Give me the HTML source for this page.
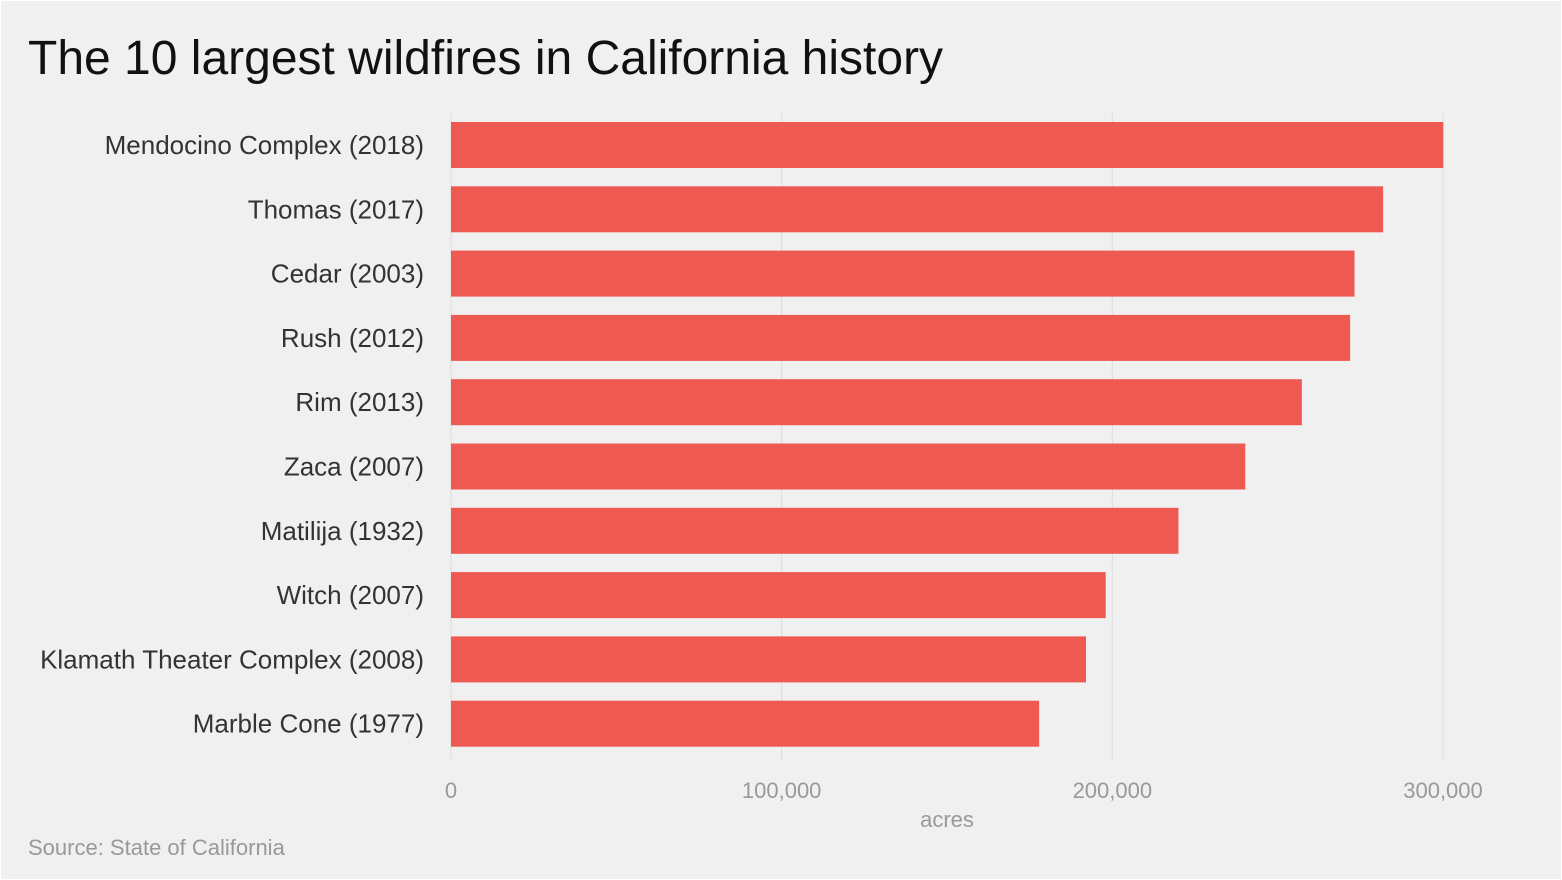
<!DOCTYPE html>
<html><head><meta charset="utf-8"><style>
html,body{margin:0;padding:0;background:#fff;}
svg{display:block;}
</style></head><body>
<svg width="1562" height="880" xmlns="http://www.w3.org/2000/svg">
<rect x="1" y="1" width="1560" height="878" fill="#f0f0f0"/>
<text x="28" y="74" font-family="Liberation Sans, sans-serif" font-size="48" fill="#111">The 10 largest wildfires in California history</text>
<g id="grid"></g><g id="bars"></g><g id="labels"></g><g id="ticks"></g>
<text x="947" y="827" text-anchor="middle" font-family="Liberation Sans, sans-serif" font-size="22" fill="#999">acres</text>
<text x="28" y="855" font-family="Liberation Sans, sans-serif" font-size="22" fill="#999">Source: State of California</text>
</svg>
<script>
const categories=["Mendocino Complex (2018)","Thomas (2017)","Cedar (2003)","Rush (2012)","Rim (2013)","Zaca (2007)","Matilija (1932)","Witch (2007)","Klamath Theater Complex (2008)","Marble Cone (1977)"];
const values=[300086,281893,273246,271911,257314,240207,220000,197990,192038,177866];
const tickValues=[0,100000,200000,300000];
const tickLabels=["0","100,000","200,000","300,000"];
const NS="http://www.w3.org/2000/svg";
const x0=451,x1=1443,xmax=300000;
const xs=v=>x0+(v/xmax)*(x1-x0);
const rowTop=122,rowStep=64.3,barH=46;
const ys=i=>rowTop+i*rowStep;
function mk(tag,attrs,parent){const e=document.createElementNS(NS,tag);for(const k in attrs)e.setAttribute(k,attrs[k]);document.getElementById(parent).appendChild(e);return e;}
tickValues.forEach((t,i)=>{
 const l=mk('line',{x1:xs(t),x2:xs(t),y1:113,y2:760,stroke:'#dcdcdc','stroke-width':1},'grid');
 
 
 const tx=mk('text',{x:xs(t),y:798,'text-anchor':'middle','font-family':'Liberation Sans, sans-serif','font-size':22,fill:'#999'},'ticks');
 tx.textContent=tickLabels[i];
 
 
});
categories.forEach((c,i)=>{
 const r=mk('rect',{x:x0,y:ys(i),width:xs(values[i])-x0,height:barH,fill:'#ee5a52'},'bars');
 
 
 const t=mk('text',{x:424,y:ys(i)+barH/2+9,'text-anchor':'end','font-family':'Liberation Sans Narrow, Liberation Sans, sans-serif','font-size':26,fill:'#333'},'labels');
 t.textContent=c;
 
 
});
</script>
</body></html>
